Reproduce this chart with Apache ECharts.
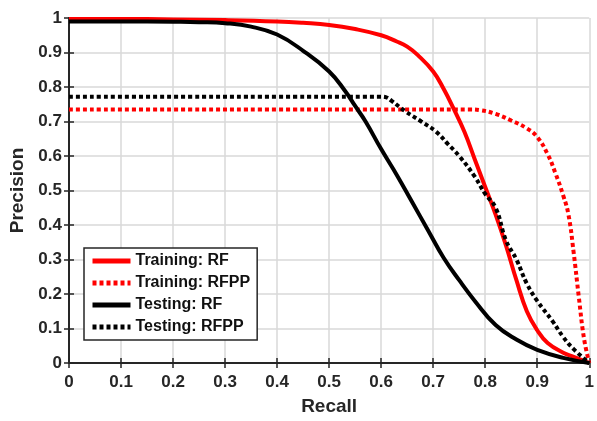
<!DOCTYPE html>
<html><head><meta charset="utf-8">
<script src="https://cdn.jsdelivr.net/npm/echarts@6/dist/echarts.min.js"></script>
<style>html,body{margin:0;padding:0;background:#fff}#c{width:597px;height:421px}</style>
</head><body><div id="c"></div>
<script>
var trainRF_x = [0,0.1,0.2,0.3,0.4,0.45,0.5,0.55,0.6,0.63,0.65,0.67,0.7,0.72,0.74,0.76,0.78,0.8,0.82,0.84,0.86,0.88,0.9,0.92,0.95,0.97,1];
var trainRF_y = [0.997,0.997,0.996,0.994,0.99,0.986,0.98,0.968,0.95,0.932,0.917,0.893,0.845,0.795,0.735,0.67,0.59,0.51,0.43,0.34,0.24,0.15,0.095,0.058,0.03,0.018,0];
var trainRFPP_x = [0,0.2,0.4,0.6,0.77,0.79,0.82,0.85,0.88,0.9,0.92,0.935,0.95,0.96,0.97,0.98,0.99,1];
var trainRFPP_y = [0.735,0.735,0.735,0.735,0.735,0.733,0.722,0.703,0.68,0.655,0.605,0.55,0.485,0.43,0.32,0.19,0.07,0];
var testRF_x = [0,0.1,0.2,0.25,0.3,0.35,0.4,0.45,0.5,0.53,0.55,0.57,0.6,0.63,0.66,0.69,0.72,0.75,0.78,0.82,0.86,0.9,0.95,1];
var testRF_y = [0.99,0.99,0.989,0.988,0.985,0.975,0.952,0.905,0.845,0.79,0.745,0.70,0.62,0.545,0.465,0.385,0.305,0.24,0.18,0.11,0.068,0.038,0.015,0];
var testRFPP_x = [0,0.2,0.4,0.6,0.61,0.62,0.646,0.677,0.706,0.728,0.75,0.78,0.8,0.82,0.84,0.86,0.88,0.9,0.93,0.95,0.97,1];
var testRFPP_y = [0.772,0.772,0.772,0.772,0.77,0.76,0.73,0.70,0.67,0.635,0.6,0.54,0.49,0.45,0.355,0.3,0.23,0.18,0.12,0.075,0.04,0];
var seriesNames = ['Training: RF','Training: RFPP','Testing: RF','Testing: RFPP'];

function pts(xs, ys){ return xs.map(function(x,i){return [x, ys[i]];}); }
var FONT = 'Liberation Sans, Arial, sans-serif';
var chart = echarts.init(document.getElementById('c'));
var axisCommon = {
  min:0, max:1, interval:0.1,
  axisLine:{show:true, lineStyle:{color:'#262626', width:2}},
  axisTick:{show:true, inside:true, length:5, lineStyle:{color:'#262626', width:1.5}},
  splitLine:{show:false}
};
function mk(name, data, color, dashed){
  return {
    name:name, type:'line', data:data, showSymbol:false, symbol:'none',
    smooth:0.45,
    lineStyle:{color:color, width:4, type: dashed ? [4,3] : 'solid', cap:'butt'},
    itemStyle:{color:color}
  };
}
chart.setOption({
  animation:false,
  grid:{left:69, right:5, top:18, bottom:55},
  legend:{
    orient:'vertical', left:84, top:248,
    backgroundColor:'#fff', borderColor:'#262626', borderWidth:1.5,
    padding:[5,7,5,6], itemWidth:38, itemHeight:14, itemGap:6,
    itemStyle:{opacity:0},
    lineStyle:{width:5},
    textStyle:{fontFamily:FONT, fontWeight:'bold', fontSize:16, color:'#111'},
    data: seriesNames
  },
  xAxis:[
    Object.assign({}, axisCommon, {type:'value', position:'bottom',
      name:'Recall', nameLocation:'middle', nameGap:34,
      nameTextStyle:{fontFamily:FONT, fontWeight:'bold', fontSize:19, color:'#262626'},
      axisLabel:{fontFamily:FONT, fontWeight:'bold', fontSize:17, color:'#262626', margin:11},
      splitLine:{show:true, lineStyle:{color:'#d9d9d9', width:1.5}}}),
    Object.assign({}, axisCommon, {type:'value', position:'top', axisLabel:{show:false}})
  ],
  yAxis:[
    Object.assign({}, axisCommon, {type:'value', position:'left',
      name:'Precision', nameLocation:'middle', nameGap:40,
      nameTextStyle:{fontFamily:FONT, fontWeight:'bold', fontSize:19, color:'#262626'},
      axisLabel:{fontFamily:FONT, fontWeight:'bold', fontSize:17, color:'#262626', margin:7},
      splitLine:{show:true, lineStyle:{color:'#d9d9d9', width:1.5}}}),
    Object.assign({}, axisCommon, {type:'value', position:'right', axisLabel:{show:false}})
  ],
  series:[
    mk(seriesNames[0], pts(trainRF_x, trainRF_y), '#ff0000', false),
    mk(seriesNames[1], pts(trainRFPP_x, trainRFPP_y), '#ff0000', true),
    mk(seriesNames[2], pts(testRF_x, testRF_y), '#000000', false),
    mk(seriesNames[3], pts(testRFPP_x, testRFPP_y), '#000000', true)
  ]
});
</script></body></html>
